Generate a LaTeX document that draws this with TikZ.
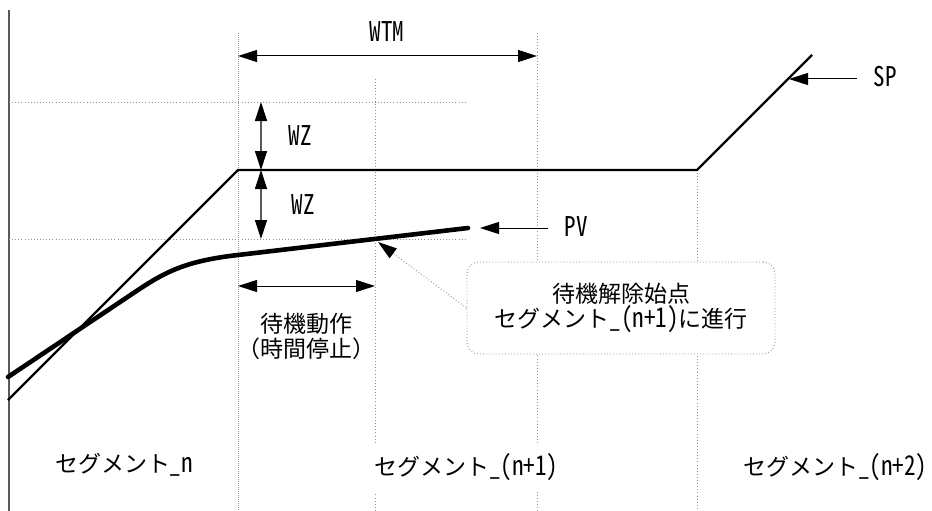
\documentclass[tikz,border=0pt]{standalone}
\usepackage{fontspec}
\usepackage{graphicx}
\setmainfont{Noto Sans CJK JP}
\newfontfamily\hw[CharacterWidth=Half]{Noto Sans CJK JP}
\newcommand\hwt[1]{\scalebox{1}[1.18]{\hw #1}}
\usetikzlibrary{arrows.meta}
\begin{document}
\begin{tikzpicture}[x=1pt,y=-1pt,
  txt/.style={font=\fontsize{23}{25}\selectfont, inner sep=0pt, align=center},
  grid/.style={gray!85, line width=0.9pt, dash pattern=on 0.9pt off 2.2pt},
  gridd/.style={gray!85, line width=0.9pt, dash pattern=on 0.9pt off 1.1pt},
  tipA/.style={{Triangle[length=19pt,width=12pt,black]}-{Triangle[length=19pt,width=12pt,black]}},
  tipE/.style={-{Triangle[length=19pt,width=12pt,black]}},
  spline/.style={black, line width=2.4pt, line join=miter},
  pvline/.style={black, line width=4.6pt, line cap=round, line join=round},
  notebox/.style={txt, draw=gray!85, line width=0.9pt, dash pattern=on 0.9pt off 2.2pt,
    rounded corners=12pt, fill=white, minimum width=308pt, minimum height=92pt}]
\useasboundingbox (0,0) rectangle (932,511);
\fill[white] (0,0) rectangle (932,511);
% coordinates
\coordinate (axT) at (9,10);    \coordinate (axB) at (9,511);
\coordinate (v1T) at (238,33);  \coordinate (v1B) at (238,511);
\coordinate (v2T) at (375,79);  \coordinate (v2B) at (375,511);
\coordinate (v3T) at (537,33);  \coordinate (v3B) at (537,511);
\coordinate (v4T) at (697,170); \coordinate (v4B) at (697,511);
\coordinate (h1L) at (9,102);   \coordinate (h1R) at (467,102);
\coordinate (h2L) at (9,239);   \coordinate (h2R) at (467,239);
% grid lines
\draw[gray!70!black, line width=1.3pt] (axT) -- (axB);
\draw[gridd] (v1T) -- (v1B);
\draw[grid] (v2T) -- (v2B);
\draw[grid] (v3T) -- (v3B);
\draw[grid] (v4T) -- (v4B);
\draw[grid] (h1L) -- (h1R);
\draw[grid] (h2L) -- (h2R);
% SP
\coordinate (sp0) at (8,400); \coordinate (sp1) at (238,170);
\coordinate (sp2) at (697,170); \coordinate (sp3) at (812,55);
\draw[spline] (sp0) -- (sp1) -- (sp2) -- (sp3);
% PV
\coordinate (pv0) at (8,377); \coordinate (pv1) at (135,292);
\coordinate (pv2) at (238,255); \coordinate (pv3) at (468,228);
\draw[pvline] (pv0) -- (pv1) .. controls (165,272) and (185,261) .. (pv2) -- (pv3);
% WTM
\coordinate (wtmL) at (238,56); \coordinate (wtmR) at (537,56);
\draw[tipA, line width=1pt] (wtmL) -- (wtmR);
\node[txt] (wtm) at (387,32) {\hwt{WTM}};
% WZ
\coordinate (wzA) at (261,102); \coordinate (wzB) at (261,170); \coordinate (wzC) at (261,239);
\draw[tipA, gray!70!black, line width=1.2pt] (wzA) -- (wzB);
\draw[tipA, gray!70!black, line width=1.2pt] (wzB) -- (wzC);
\node[txt] (wz1) at (300,136) {\hwt{WZ}};
\node[txt] (wz2) at (303,205) {\hwt{WZ}};
% PV label
\node[txt] (pv) at (576,227) {\hwt{PV}};
\coordinate (pvS) at (548,228); \coordinate (pvE) at (480,228);
\draw[tipE, line width=1pt] (pvS) -- (pvE);
% SP label
\node[txt] (sp) at (885,77) {\hwt{SP}};
\coordinate (spS) at (857,79); \coordinate (spE) at (789,79);
\draw[tipE, line width=1pt] (spS) -- (spE);
% wait action
\coordinate (wL) at (238,286); \coordinate (wR) at (375,286);
\draw[tipA, line width=1pt] (wL) -- (wR);
\node[txt] (wait) at (306,336) {待機動作\\（時間停止）};
% note box
\node[notebox] (note) at (621,308) {待機解除始点\\セグメント\hwt{\_(n+1)}に進行};
\coordinate (noteP) at (378,242);
\draw[gray!85, line width=0.9pt, dash pattern=on 0.9pt off 2.2pt, tipE] (note.west) -- (noteP);
% segment labels
\node[txt] (segn) at (124,465) {セグメント\hwt{\_n}};
\node[txt, fill=white, minimum height=49pt, inner xsep=2pt] (segn1) at (466,467) {セグメント\hwt{\_(n+1)}};
\node[txt] (segn2) at (835,467) {セグメント\hwt{\_(n+2)}};
\end{tikzpicture}
\end{document}
